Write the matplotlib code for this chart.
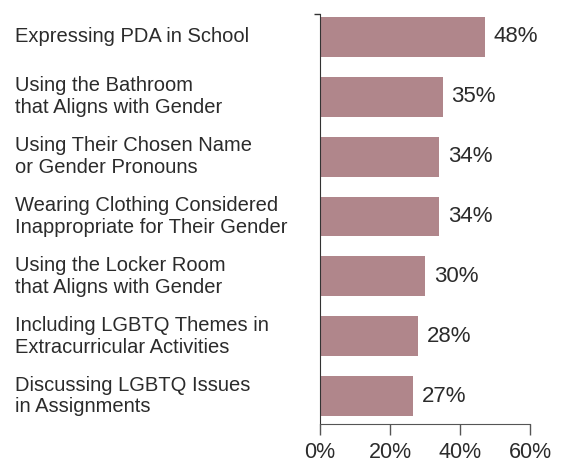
import matplotlib
matplotlib.use("Agg")
import matplotlib.pyplot as plt

categories = [
    "Expressing PDA in School",
    "Using the Bathroom\nthat Aligns with Gender",
    "Using Their Chosen Name\nor Gender Pronouns",
    "Wearing Clothing Considered\nInappropriate for Their Gender",
    "Using the Locker Room\nthat Aligns with Gender",
    "Including LGBTQ Themes in\nExtracurricular Activities",
    "Discussing LGBTQ Issues\nin Assignments",
]
values = [47, 35, 34, 34, 30, 28, 26.5]
value_labels = ["48%", "35%", "34%", "34%", "30%", "28%", "27%"]
xticks = [0, 20, 40, 60]
xtick_labels = ["0%", "20%", "40%", "60%"]

plt.rcParams['font.family'] = ['Liberation Sans', 'DejaVu Sans']
text_color = "#2b2b2b"
bar_color = "#b0868b"

fig = plt.figure(figsize=(5.73, 4.63), dpi=100)
ax = fig.add_axes([0.5585, 0.0842, 0.3665, 0.8856])

y = list(range(len(categories)))
ax.barh(y, values, height=0.667, color=bar_color)
ax.set_ylim(6.467, -0.383)
ax.set_xlim(0, 60)

for yi, v, lab in zip(y, values, value_labels):
    ax.annotate(lab, (v, yi), xytext=(9, 0), textcoords="offset pixels",
                va="center", ha="left", fontsize=16, color=text_color)

for yi, cat in zip(y, categories):
    ax.annotate(cat, (0, yi), xycoords=("figure fraction", "data"),
                xytext=(15, 0), textcoords="offset pixels",
                va="center", ha="left", fontsize=14.5, color=text_color,
                linespacing=1.18)

ax.set_xticks(xticks)
ax.set_xticklabels(xtick_labels, fontsize=15.5, color=text_color)
ax.set_yticks([-0.383])
ax.set_yticklabels([""])
ax.tick_params(axis='y', length=4, width=1, color="#333333")
ax.tick_params(axis='x', length=8, width=1, color="#555555", pad=5)
for s in ["top", "right"]:
    ax.spines[s].set_visible(False)
ax.spines["left"].set_color("#333333")
ax.spines["bottom"].set_color("#555555")

fig.savefig("out.png", dpi=100)
